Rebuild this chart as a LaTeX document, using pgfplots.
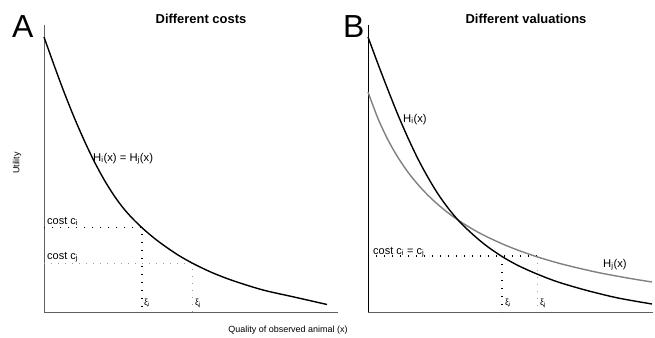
\documentclass[border=0pt]{standalone}
\usepackage{fontspec}
\setmainfont{Liberation Sans}
\usepackage{pgfplots}
\pgfplotsset{compat=1.18}
\definecolor{axgray}{HTML}{606060}
\definecolor{curvegray}{HTML}{808080}
\definecolor{dotgray}{HTML}{9A9A9A}
\begin{document}
\begin{tikzpicture}[x=1bp,y=1bp]
\useasboundingbox (0,0) rectangle (655,337);
\pgfplotsset{panel/.style={scale only axis, axis lines*=left, axis line style={-, line width=0.9bp}, xtick=\empty, ytick=\empty, ymin=0, clip=false}}
% Panel A
\begin{axis}[panel, at={(44bp,25bp)}, anchor=south west, width=294bp, height=287bp,
  xmin=0, xmax=294, ymax=287, axis line style={draw=axgray}]
\addplot[black, line width=1.2bp, dash pattern=on 1.2bp off 6.8bp] coordinates {(0,84.5) (98,84.5) (98,0)};
\addplot[dotgray, line width=1bp, dash pattern=on 1bp off 6bp] coordinates {(0,49) (148,49) (148,0)};
\addplot[black, line width=1.4bp, smooth] coordinates {
(0,275) (10,247) (20,220) (30,195) (40,172) (50,151) (60,132.5) (70,116.5) (80,103) (90,92)
(100,82.5) (110,74) (120,66.5) (134,57) (150,48) (169,39) (190,31) (219,22) (250,15) (283,7.5)};
\end{axis}
% Panel B
\begin{axis}[panel, at={(368bp,25bp)}, anchor=south west, width=285bp, height=287bp,
  xmin=0, xmax=285, ymax=287, x axis line style={draw=axgray}, y axis line style={draw=black}]
\addplot[black, line width=1.2bp, dash pattern=on 1.2bp off 6.8bp] coordinates {(0,56) (169,56)};
\addplot[black, line width=1.2bp, dash pattern=on 1.2bp off 6.8bp] coordinates {(134,56) (134,0)};
\addplot[dotgray, line width=1bp, dash pattern=on 1bp off 6bp] coordinates {(169,56) (169,0)};
\addplot[curvegray, line width=1.4bp, smooth] coordinates {
(0,220) (10,193.4) (20,172) (30,154.5) (40,139.8) (50,127.4) (60,116.7) (70,107.4) (80,99.2) (90,92)
(100,85.6) (110,79.8) (120,74.7) (135,67.8) (150,61.8) (169,55.2) (190,49) (210,44) (232,39.1) (260,33.9) (284,30)};
\addplot[black, line width=1.4bp, smooth] coordinates {
(0,275) (10,248) (20,222) (30,197) (40,174) (50,153) (60,134.5) (70,118) (80,104) (90,92)
(100,82) (110,73) (120,65) (134,55.5) (150,46.5) (169,38) (190,30) (219,21.5) (250,14) (284,8)};
\end{axis}
% Texts
\begin{scope}[every node/.style={inner sep=0pt}]
\node[anchor=base west, font=\fontsize{32}{36}\selectfont] at (12,300) {A};
\node[anchor=base west, font=\fontsize{32}{36}\selectfont] at (343,300) {B};
\node[anchor=base, font=\bfseries\fontsize{13}{15}\selectfont] at (201,314) {Different costs};
\node[anchor=base, font=\bfseries\fontsize{13}{15}\selectfont] at (526,314) {Different valuations};
\node[rotate=90, font=\fontsize{9}{11}\selectfont] at (17,174) {Utility};
\node[anchor=base, font=\fontsize{9}{11}\selectfont] at (288,5) {Quality of observed animal (x)};
\node[anchor=base west, font=\fontsize{11.3}{13}\selectfont] at (93,176) {H\textsubscript{i}(x) = H\textsubscript{j}(x)};
\node[anchor=base west, font=\fontsize{11}{13}\selectfont] at (47,113) {cost c\textsubscript{i}};
\node[anchor=base west, font=\fontsize{11}{13}\selectfont] at (47,78) {cost c\textsubscript{j}};
\node[anchor=base west, font=\fontsize{9}{10}\selectfont] at (144,32) {ξ\textsubscript{i}};
\node[anchor=base west, font=\fontsize{9}{10}\selectfont] at (195,32) {ξ\textsubscript{j}};
\node[anchor=base west, font=\fontsize{11}{13}\selectfont] at (373,83) {cost c\textsubscript{i} = c\textsubscript{j}};
\node[anchor=base west, font=\fontsize{11.3}{13}\selectfont] at (403,215) {H\textsubscript{i}(x)};
\node[anchor=base west, font=\fontsize{11.3}{13}\selectfont] at (603,70) {H\textsubscript{j}(x)};
\node[anchor=base west, font=\fontsize{9}{10}\selectfont] at (505,32) {ξ\textsubscript{i}};
\node[anchor=base west, font=\fontsize{9}{10}\selectfont] at (540,32) {ξ\textsubscript{j}};
\end{scope}
\end{tikzpicture}
\end{document}
